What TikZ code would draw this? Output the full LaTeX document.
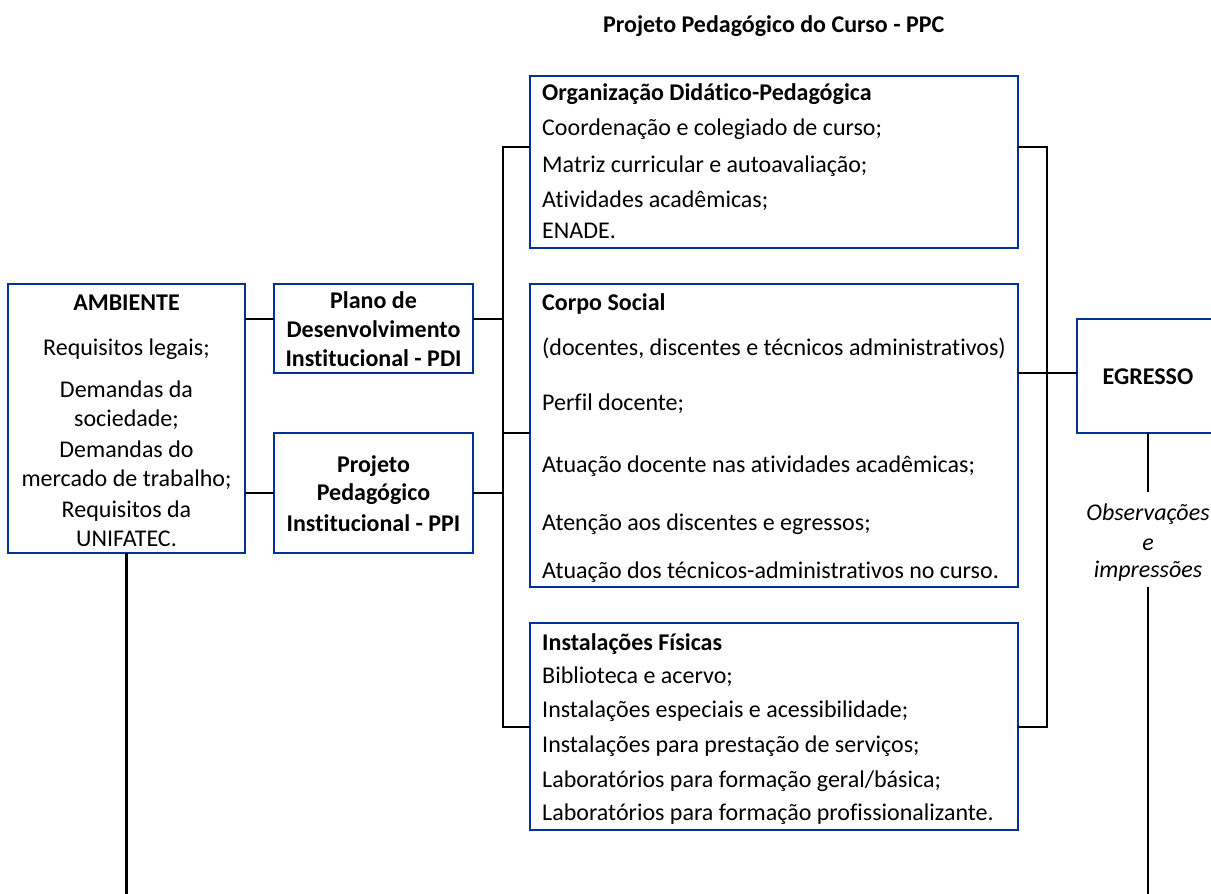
\documentclass[tikz,border=0pt]{standalone}
\usepackage{fontspec}
\setmainfont{Carlito}[Ligatures=NoCommon]
\definecolor{boxblue}{RGB}{0,51,153}
\tikzset{
  box/.style={draw=boxblue, line width=2.3pt, anchor=north west, inner sep=0pt, outer sep=0pt, fill=white},
  conn/.style={draw=black, line width=2.4pt},
  txt/.style={inner sep=0pt, font=\fontsize{24}{28}\selectfont, text=black},
  lt/.style={txt, anchor=base west},
  ct/.style={txt, anchor=base},
  bt/.style={txt, anchor=base, font=\fontsize{24}{28}\selectfont\bfseries},
  blt/.style={txt, anchor=base west, font=\fontsize{24}{28}\selectfont\bfseries},
  it/.style={txt, anchor=base, font=\fontsize{24}{28}\selectfont\itshape},
}
\begin{document}
\begin{tikzpicture}[x=1pt, y=-1pt]
\useasboundingbox (0,0) rectangle (1211,894);
\clip (0,0) rectangle (1211,894);

% junction coordinates
\coordinate (j1) at (0,319);
\coordinate (ltop) at (503,147);
\coordinate (lbot) at (503,727);
\coordinate (lcs) at (503,433);
\coordinate (rtop) at (1047,147);
\coordinate (rbot) at (1047,727);
\coordinate (rcs) at (1047,373);
\coordinate (obsA) at (1148,492);
\coordinate (obsB) at (1148,587);
\coordinate (bottom) at (0,894);

% boxes
\node[box, minimum width=237, minimum height=269] (amb) at (8,284) {};
\node[box, minimum width=199, minimum height=89] (pdi) at (274,284) {};
\node[box, minimum width=199, minimum height=120] (ppi) at (274,433) {};
\node[box, minimum width=488, minimum height=172] (org) at (530,76) {};
\node[box, minimum width=488, minimum height=303] (cs) at (530,284) {};
\node[box, minimum width=488, minimum height=207] (inst) at (530,623) {};
\node[box, minimum width=142, minimum height=114] (egr) at (1077,319) {};

% connectors
\draw[conn] (org.west|-ltop) -- (ltop) -- (lbot) -- (inst.west|-lbot);
\draw[conn] (org.east|-rtop) -- (rtop) -- (rbot) -- (inst.east|-rbot);
\draw[conn] (amb.east|-j1) -- (pdi.west|-j1);
\draw[conn] (pdi.east|-j1) -- (ltop|-j1);
\draw[conn] (amb.east|-ppi.west) -- (ppi.west);
\draw[conn] (ppi.east) -- (ltop|-ppi.east);
\draw[conn] (lcs) -- (cs.west|-lcs);
\draw[conn] (cs.east|-rcs) -- (egr.west|-rcs);
\draw[conn] (egr.south) -- (egr.south|-obsA);
\draw[conn] (obsB) -- (obsB|-bottom);
\draw[conn] (amb.south) -- (amb.south|-bottom);

% title
\node[blt] (title) at (603,32) {Projeto Pedagógico do Curso - PPC};

% AMBIENTE
\node[bt] (ambT) at (126.5,310) {AMBIENTE};
\node[ct] (amb1) at (126.5,355) {Requisitos legais;};
\node[ct] (amb2) at (126.5,397) {Demandas da};
\node[ct] (amb3) at (126.5,426) {sociedade;};
\node[ct] (amb4) at (126.5,457) {Demandas do};
\node[ct] (amb5) at (126.5,486) {mercado de trabalho;};
\node[ct] (amb6) at (126.5,517) {Requisitos da};
\node[ct] (amb7) at (126.5,546) {UNIFATEC.};

% PDI
\node[bt] (pdi1) at (373.5,308) {Plano de};
\node[bt] (pdi2) at (373.5,337) {Desenvolvimento};
\node[bt] (pdi3) at (373.5,366) {Institucional - PDI};

% PPI
\node[bt] (ppi1) at (373.5,472) {Projeto};
\node[bt] (ppi2) at (373.5,500) {Pedagógico};
\node[bt] (ppi3) at (373.5,531) {Institucional - PPI};

% Organização
\node[blt] (orgT) at (542,100) {Organização Didático-Pedagógica};
\node[lt] (org1) at (542,135) {Coordenação e colegiado de curso;};
\node[lt] (org2) at (542,172) {Matriz curricular e autoavaliação;};
\node[lt] (org3) at (542,207) {Atividades acadêmicas;};
\node[lt] (org4) at (542,238) {ENADE.};

% Corpo Social
\node[blt] (csT) at (542,310) {Corpo Social};
\node[lt] (cs1) at (542,355) {(docentes, discentes e técnicos administrativos)};
\node[lt] (cs2) at (542,410) {Perfil docente;};
\node[lt] (cs3) at (542,472) {Atuação docente nas atividades acadêmicas;};
\node[lt] (cs4) at (542,530) {Atenção aos discentes e egressos;};
\node[lt] (cs5) at (542,578) {Atuação dos técnicos-administrativos no curso.};

% Instalações
\node[blt] (instT) at (542,650) {Instalações Físicas};
\node[lt] (inst1) at (542,683) {Biblioteca e acervo;};
\node[lt] (inst2) at (542,717) {Instalações especiais e acessibilidade;};
\node[lt] (inst3) at (542,752) {Instalações para prestação de serviços;};
\node[lt] (inst4) at (542,787) {Laboratórios para formação geral/básica;};
\node[lt] (inst5) at (542,820) {Laboratórios para formação profissionalizante.};

% EGRESSO
\node[bt] (egrT) at (1148,384) {EGRESSO};
\node[it] (obs1) at (1148,520) {Observações};
\node[it] (obs2) at (1148,550) {e};
\node[it] (obs3) at (1148,577) {impressões};
\end{tikzpicture}
\end{document}
